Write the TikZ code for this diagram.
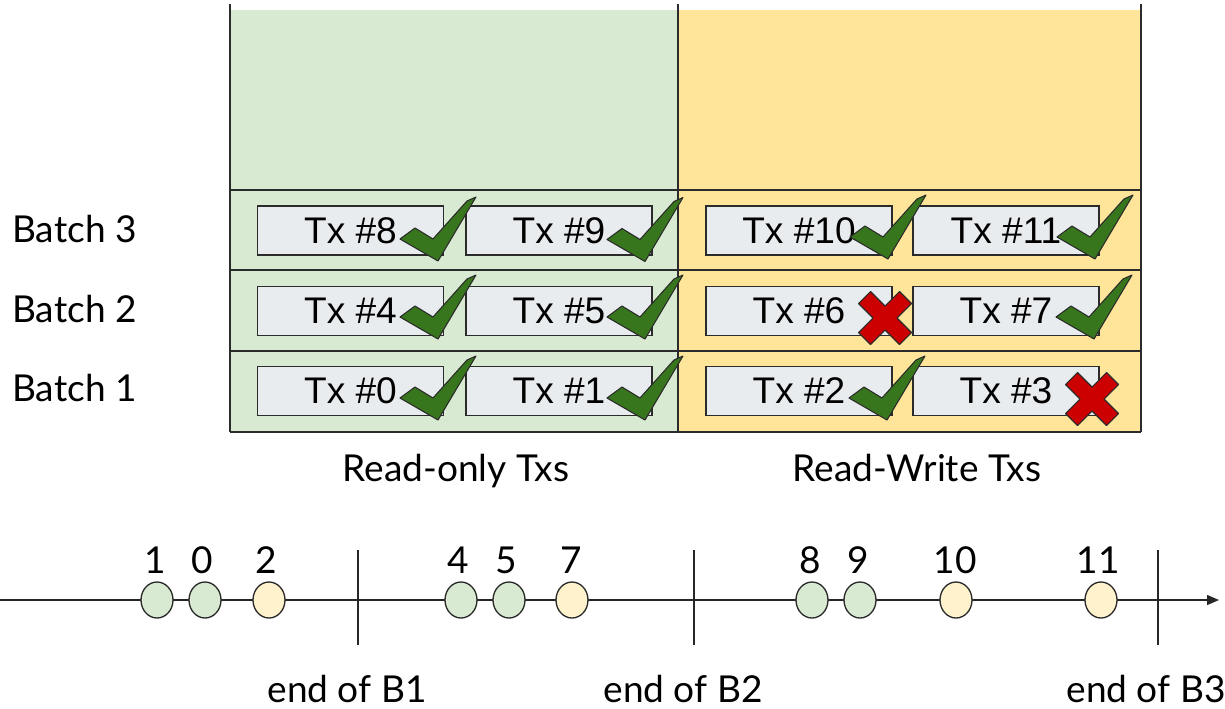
\documentclass[tikz,border=0pt]{standalone}
\usepackage{fontspec}
\setmainfont{Lato}
\newfontfamily\txfont{Liberation Sans}
\usetikzlibrary{shapes.geometric,arrows.meta}
\definecolor{rogreen}{HTML}{D9EAD3}
\definecolor{rwyellow}{HTML}{FFE599}
\definecolor{txgray}{HTML}{E8ECEE}
\definecolor{chkgreen}{HTML}{38761D}
\definecolor{xred}{HTML}{CC0000}
\definecolor{dotyellow}{HTML}{FFF2CC}
\definecolor{linec}{HTML}{2B2B2B}
\begin{document}
\begin{tikzpicture}[x=0.75pt,y=-0.75pt,
  tabline/.style={draw=linec,line width=1.5pt},
  txbox/.style={draw=linec,line width=1pt,fill=txgray,minimum width=139.5pt,minimum height=36.75pt,inner sep=0pt,font=\txfont\fontsize{27.8}{32}\selectfont},
  lbl/.style={inner sep=0pt,anchor=base,font=\fontsize{27.8}{32}\selectfont},
  dotg/.style={ellipse,draw=linec,line width=1pt,fill=rogreen,minimum width=24pt,minimum height=27pt,inner sep=0pt},
  doty/.style={dotg,fill=dotyellow},
  chkst/.style={fill=chkgreen,draw=linec,line width=0.8pt,line join=round},
  xst/.style={fill=xred,draw=linec,line width=0.8pt,line join=round},
  axis/.style={draw=black!85,line width=1.1pt},
  checkmk/.pic={\path[chkst] (0,0)--(15,-11)--(33,0)--(67,-38)--(76,-42)--(38,22)--cycle;},
  crossmk/.pic={\path[xst] (0,-12)--(14.5,-26.5)--(26.5,-14.5)--(12,0)--(26.5,14.5)--(14.5,26.5)--(0,12)--(-14.5,26.5)--(-26.5,14.5)--(-12,0)--(-26.5,-14.5)--(-14.5,-26.5)--cycle;}
]
\useasboundingbox (0,0) rectangle (1225,708);
% regions
\fill[rogreen] (230,10) rectangle (678,432);
\fill[rwyellow] (678,10) rectangle (1141,432);
\foreach \yy in {190,270,351,432} \draw[tabline] (230,\yy) -- (1141,\yy);
\foreach \xx in {230,678,1141} \draw[tabline] (\xx,4) -- (\xx,432);
% batch labels
\node[lbl,anchor=base west] (b3) at (12,242.5) {Batch 3};
\node[lbl,anchor=base west] (b2) at (12,322.5) {Batch 2};
\node[lbl,anchor=base west] (b1) at (12,401.5) {Batch 1};
% tx boxes
\node[txbox] (t8) at (350.5,230.5) {Tx \#8};
\node[txbox] (t9) at (559,230.5) {Tx \#9};
\node[txbox] (t10) at (799,230.5) {Tx \#10};
\node[txbox] (t11) at (1006,230.5) {Tx \#11};
\node[txbox] (t4) at (350.5,311) {Tx \#4};
\node[txbox] (t5) at (559,311) {Tx \#5};
\node[txbox] (t6) at (799,311) {Tx \#6};
\node[txbox] (t7) at (1006,311) {Tx \#7};
\node[txbox] (t0) at (350.5,391) {Tx \#0};
\node[txbox] (t1) at (559,391) {Tx \#1};
\node[txbox] (t2) at (799,391) {Tx \#2};
\node[txbox] (t3) at (1006,391) {Tx \#3};
% marks
\pic at ([shift={(49.5,8.5)}]t8.center) {checkmk};
\pic at ([shift={(48,9)}]t9.center) {checkmk};
\pic at ([shift={(51,6.5)}]t10.center) {checkmk};
\pic at ([shift={(51,6.5)}]t11.center) {checkmk};
\pic at ([shift={(49.5,6)}]t4.center) {checkmk};
\pic at ([shift={(48,6)}]t5.center) {checkmk};
\pic at ([shift={(86,7)}]t6.center) {crossmk};
\pic at ([shift={(50,6)}]t7.center) {checkmk};
\pic at ([shift={(49.5,7)}]t0.center) {checkmk};
\pic at ([shift={(48,7)}]t1.center) {checkmk};
\pic at ([shift={(50,7)}]t2.center) {checkmk};
\pic at ([shift={(86,8)}]t3.center) {crossmk};
% column labels
\node[lbl] (ro) at (456,481.5) {Read-only Txs};
\node[lbl] (rw) at (917,481.5) {Read-Write Txs};
% timeline
\coordinate (tl0) at (0,600);
\coordinate (tl1) at (1219,600);
\draw[axis,-{Triangle[length=9pt,width=7.5pt]}] (tl0) -- (tl1);
\coordinate (k1t) at (358,550); \coordinate (k1b) at (358,645);
\coordinate (k2t) at (694,550); \coordinate (k2b) at (694,645);
\coordinate (k3t) at (1158,550); \coordinate (k3b) at (1158,645);
\draw[axis] (k1t) -- (k1b);
\draw[axis] (k2t) -- (k2b);
\draw[axis] (k3t) -- (k3b);
\node[dotg] (d1) at (157,600) {};
\node[dotg] (d0) at (205,600) {};
\node[doty] (d2) at (269,600) {};
\node[dotg] (d4) at (461,600) {};
\node[dotg] (d5) at (509,600) {};
\node[doty] (d7) at (572,600) {};
\node[dotg] (d8) at (812,600) {};
\node[dotg] (d9) at (860,600) {};
\node[doty] (d10) at (956,600) {};
\node[doty] (d11) at (1101,600) {};
\node[lbl] (n1) at (155,573.5) {1};
\node[lbl] (n0) at (202,573.5) {0};
\node[lbl] (n2) at (266,573.5) {2};
\node[lbl] (n4) at (458,573.5) {4};
\node[lbl] (n5) at (506,573.5) {5};
\node[lbl] (n7) at (571,573.5) {7};
\node[lbl] (n8) at (810,573.5) {8};
\node[lbl] (n9) at (858,573.5) {9};
\node[lbl] (n10) at (955,573.5) {10};
\node[lbl] (n11) at (1098,573.5) {11};
\node[lbl] (e1) at (347,702) {end of B1};
\node[lbl] (e2) at (683,702) {end of B2};
\node[lbl] (e3) at (1146,702) {end of B3};
\end{tikzpicture}
\end{document}
